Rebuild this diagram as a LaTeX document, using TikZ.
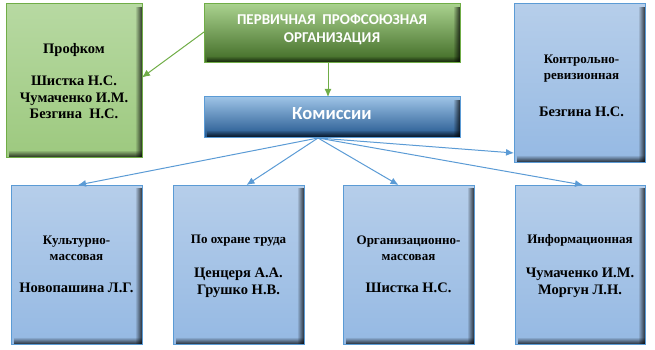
\documentclass[tikz,border=0pt]{standalone}
\usepackage{fontspec}
\setmainfont{Liberation Serif}[BoldFont={Liberation Serif Bold}]
\newfontfamily\calfont{Carlito}[BoldFont={Carlito Bold}]
\usetikzlibrary{arrows.meta,fadings}
\definecolor{gborder}{HTML}{70AD47}
\definecolor{gtop}{HTML}{B7D9A2}
\definecolor{gbot}{HTML}{9DC97F}
\definecolor{bborder}{HTML}{5B9BD5}
\definecolor{btop}{HTML}{B6CEEA}
\definecolor{bbot}{HTML}{95B9E3}
\definecolor{pgtop}{HTML}{A9D18E}
\definecolor{pgmid}{HTML}{6EA046}
\definecolor{pgbot}{HTML}{3F6A24}
\definecolor{kbtop}{HTML}{9DC3E6}
\definecolor{kbmid}{HTML}{4F89C6}
\definecolor{kbbot}{HTML}{23578F}
\newcommand\innershadow[2]{%
  \fill[black, opacity=0.75, path fading=west] ([xshift=-7pt,yshift=-3pt]#1.north east) rectangle (#1.south east);
  \fill[black, opacity=0.75, path fading=north] ([xshift=3pt,yshift=7pt]#1.south west) rectangle (#1.south east);
  \draw[#2, line width=1pt] (#1.south west) rectangle (#1.north east);
}
\newcommand\hd{\fontsize{13}{15.5}\selectfont}
\begin{document}
\begin{tikzpicture}[x=1pt,y=-1pt,
  bluebox/.style={draw=bborder, line width=1pt, outer sep=0pt, minimum width=131pt, minimum height=159pt,
    inner sep=0pt, top color=btop, bottom color=bbot},
  greenbox/.style={draw=gborder, line width=1pt, outer sep=0pt, minimum width=136pt, minimum height=153pt,
    inner sep=0pt, top color=gtop, bottom color=gbot},
  pervbox/.style={draw=gborder, line width=1pt, outer sep=0pt, minimum width=256pt, minimum height=59pt,
    inner sep=0pt, top color=pgtop, middle color=pgmid, bottom color=pgbot},
  kombox/.style={draw=bborder, line width=1pt, outer sep=0pt, minimum width=256pt, minimum height=40pt,
    inner sep=0pt, top color=kbtop, middle color=kbmid, bottom color=kbbot},
  boxtext/.style={inner sep=0pt, align=center, font=\fontsize{14.5}{16.5}\selectfont\bfseries},
  whitetext/.style={inner sep=0pt, align=center, text=white, font=\calfont\bfseries\fontsize{15}{18.5}\selectfont},
  garrow/.style={draw=gborder, line width=1pt, -{Latex[length=8pt,width=7pt]}},
  barrow/.style={draw=bborder, line width=1pt, -{Latex[length=8pt,width=7pt]}}
]
\useasboundingbox (0,0) rectangle (655,350);
\node[greenbox] (prof) at (74,80.5) {};
\node[pervbox] (perv) at (332,33.5) {};
\node[kombox] (kom) at (332,117) {};
\node[bluebox, minimum height=158pt] (kontr) at (579.5,83) {};
\node[bluebox] (b1) at (76.5,264.5) {};
\node[bluebox] (b2) at (238.5,264.5) {};
\node[bluebox] (b3) at (408.5,264.5) {};
\node[bluebox, minimum width=130pt] (b4) at (580,264.5) {};
\innershadow{prof}{gborder}
\innershadow{perv}{gborder}
\innershadow{kom}{bborder}
\innershadow{kontr}{bborder}
\innershadow{b1}{bborder}
\innershadow{b2}{bborder}
\innershadow{b3}{bborder}
\innershadow{b4}{bborder}
\node[boxtext] (proft) at ([yshift=-1pt]prof.center) {Профком\\[15.5pt]Шистка Н.С.\\Чумаченко И.М.\\Безгина~~Н.С.};
\node[whitetext] (pervt) at ([yshift=4pt]perv.center) {ПЕРВИЧНАЯ~~ПРОФСОЮЗНАЯ\\ОРГАНИЗАЦИЯ};
\node[whitetext, font=\calfont\bfseries\fontsize{18.5}{20}\selectfont] (komt) at ([yshift=3pt]kom.center) {Комиссии};
\node[boxtext] (kontrt) at ([xshift=2pt,yshift=-3pt]kontr.center) {{\hd Контрольно-}\\[-1pt]{\hd ревизионная}\\[21pt]Безгина Н.С.};
\node[boxtext] (b1t) at (b1.center) {{\hd Культурно-}\\[-1pt]{\hd массовая}\\[16pt]Новопашина Л.Г.};
\node[boxtext] (b2t) at ([yshift=-1.5pt]b2.center) {{\hd По охране труда}\\[18pt]Ценцеря А.А.\\Грушко Н.В.};
\node[boxtext] (b3t) at (b3.center) {{\hd Организационно-}\\[-1pt]{\hd массовая}\\[16pt]Шистка Н.С.};
\node[boxtext] (b4t) at ([yshift=-1.5pt]b4.center) {{\hd Информационная}\\[18pt]Чумаченко И.М.\\Моргун Л.Н.};
\coordinate (hub) at (318,138);
\draw[garrow] ([yshift=1.5pt]perv.west) -- ([yshift=3pt]prof.east);
\draw[garrow] ([xshift=-4pt]perv.south) -- ([xshift=-4pt]kom.north);
\draw[barrow] (hub) -- ([xshift=1.5pt]b1.north);
\draw[barrow] (hub) -- ([xshift=8pt]b2.north);
\draw[barrow] (hub) -- ([xshift=-10pt]b3.north);
\draw[barrow] (hub) -- ([xshift=3pt]b4.north);
\draw[barrow] (hub) -- ([yshift=9pt]kontr.south west);
\end{tikzpicture}
\end{document}
